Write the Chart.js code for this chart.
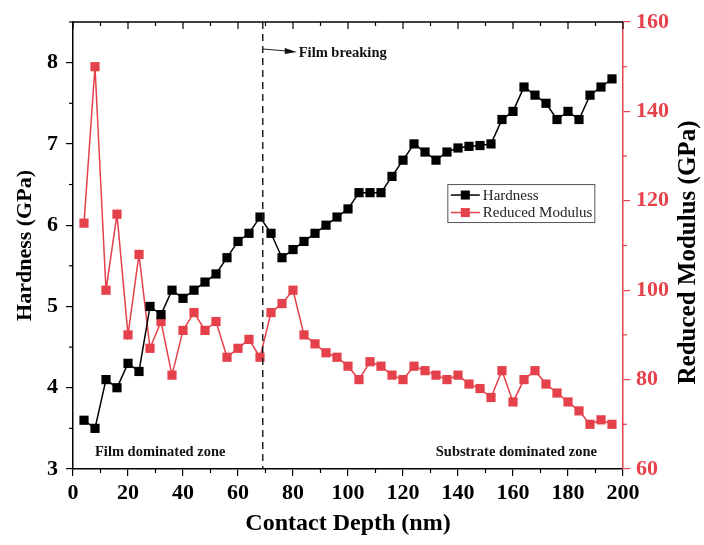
<!DOCTYPE html>
<html>
<head>
<meta charset="utf-8">
<script src="https://cdn.jsdelivr.net/npm/chart.js@4.4.1/dist/chart.umd.min.js"></script>
<style>
  html, body { margin: 0; padding: 0; background: #fff; }
  #wrap { width: 704px; height: 545px; }
</style>
</head>
<body>
<div id="wrap"><canvas id="nano_chart"></canvas></div>
<script>
// contact depth (nm)
const depth = [4, 8, 12, 16, 20, 24, 28, 32, 36, 40, 44, 48, 52, 56, 60, 64, 68, 72, 76, 80,
  84, 88, 92, 96, 100, 104, 108, 112, 116, 120, 124, 128, 132, 136, 140, 144, 148, 152, 156, 160,
  164, 168, 172, 176, 180, 184, 188, 192, 196];

const hardness = [3.6, 3.5, 4.1, 4.0, 4.3, 4.2, 5.0, 4.9, 5.2, 5.1, 5.2, 5.3, 5.4, 5.6, 5.8, 5.9, 6.1, 5.9, 5.6, 5.7,
  5.8, 5.9, 6.0, 6.1, 6.2, 6.4, 6.4, 6.4, 6.6, 6.8, 7.0, 6.9, 6.8, 6.9, 6.95, 6.97, 6.98, 7.0, 7.3, 7.4,
  7.7, 7.6, 7.5, 7.3, 7.4, 7.3, 7.6, 7.7, 7.8];

const modulus = [115, 150, 100, 117, 90, 108, 87, 93, 81, 91, 95, 91, 93, 85, 87, 89, 85, 95, 97, 100,
  90, 88, 86, 85, 83, 80, 84, 83, 81, 80, 83, 82, 81, 80, 81, 79, 78, 76, 82, 75,
  80, 82, 79, 77, 75, 73, 70, 71, 70];

const xTicks = [0, 20, 40, 60, 80, 100, 120, 140, 160, 180, 200];
const breakDepth = 69;

const RED = "#e5414b";
const SERIF = "'Liberation Serif', 'Times New Roman', serif";

const toPoints = (ys) => depth.map((d, i) => ({ x: d, y: ys[i] }));

// minor ticks, top frame, dashed line, notes, legend, right title
const extras = {
  id: "extras",
  afterDraw(chart) {
    const ctx = chart.ctx;
    const area = chart.chartArea;
    const x = chart.scales.x;
    const y = chart.scales.y;
    const y1 = chart.scales.y1;
    ctx.save();

    // top frame
    ctx.strokeStyle = "#000";
    ctx.lineWidth = 1.5;
    ctx.beginPath();
    ctx.moveTo(area.left, area.top);
    ctx.lineTo(area.right, area.top);
    ctx.stroke();

    // x ticks: minor on bottom, major+minor on top
    ctx.lineWidth = 1.2;
    for (let v = 0; v <= 200; v += 10) {
      const px = x.getPixelForValue(v);
      const major = v % 20 === 0;
      ctx.beginPath();
      if (!major) {
        ctx.moveTo(px, area.bottom);
        ctx.lineTo(px, area.bottom + 4);
      }
      ctx.moveTo(px, area.top);
      ctx.lineTo(px, area.top + (major ? 7 : 4));
      ctx.stroke();
    }

    // left minor ticks
    for (let v = 3.5; v <= 8.5; v += 1) {
      const py = y.getPixelForValue(v);
      ctx.beginPath();
      ctx.moveTo(area.left, py);
      ctx.lineTo(area.left - 4, py);
      ctx.stroke();
    }

    // right minor ticks
    ctx.strokeStyle = RED;
    for (let v = 70; v < 160; v += 20) {
      const py = y1.getPixelForValue(v);
      ctx.beginPath();
      ctx.moveTo(area.right, py);
      ctx.lineTo(area.right + 4, py);
      ctx.stroke();
    }

    // film breaking line
    const bx = x.getPixelForValue(breakDepth);
    ctx.strokeStyle = "#222";
    ctx.lineWidth = 1.5;
    ctx.setLineDash([7, 5]);
    ctx.beginPath();
    ctx.moveTo(bx, area.top);
    ctx.lineTo(bx, area.bottom);
    ctx.stroke();
    ctx.setLineDash([]);

    // arrow
    const ay = area.top + 27;
    ctx.lineWidth = 1;
    ctx.beginPath();
    ctx.moveTo(bx, ay);
    ctx.lineTo(bx + 24, ay + 2);
    ctx.stroke();
    ctx.fillStyle = "#111";
    ctx.beginPath();
    ctx.moveTo(bx + 34, ay + 3);
    ctx.lineTo(bx + 22, ay - 1);
    ctx.lineTo(bx + 22, ay + 5);
    ctx.closePath();
    ctx.fill();

    ctx.fillStyle = "#111";
    ctx.font = "bold 14.5px " + SERIF;
    ctx.textBaseline = "middle";
    ctx.textAlign = "left";
    ctx.fillText("Film breaking", bx + 36, ay + 4);
    ctx.fillText("Film dominated zone", x.getPixelForValue(8), y.getPixelForValue(3.2));
    ctx.textAlign = "right";
    ctx.fillText("Substrate dominated zone", x.getPixelForValue(190.5), y.getPixelForValue(3.2));

    // legend box
    const lx = x.getPixelForValue(136.3);
    const ly = y.getPixelForValue(6.5);
    const lw = 147;
    const lh = 38;
    ctx.fillStyle = "#fff";
    ctx.fillRect(lx, ly, lw, lh);
    ctx.strokeStyle = "#555";
    ctx.lineWidth = 1;
    ctx.strokeRect(lx, ly, lw, lh);
    const rows = [["Hardness", "#000"], ["Reduced Modulus", RED]];
    rows.forEach((r, i) => {
      const ry = ly + 10.5 + i * 17.5;
      ctx.strokeStyle = r[1];
      ctx.lineWidth = 1.5;
      ctx.beginPath();
      ctx.moveTo(lx + 3, ry);
      ctx.lineTo(lx + 32, ry);
      ctx.stroke();
      ctx.fillStyle = r[1];
      ctx.fillRect(lx + 13, ry - 4.5, 9, 9);
      ctx.fillStyle = "#222";
      ctx.font = "15px " + SERIF;
      ctx.textAlign = "left";
      ctx.fillText(r[0], lx + 35, ry + 1);
    });

    // right axis title, reading bottom to top
    ctx.translate(689, (area.top + area.bottom) / 2 + 7);
    ctx.rotate(-Math.PI / 2);
    ctx.fillStyle = "#000";
    ctx.font = "bold 25px " + SERIF;
    ctx.textAlign = "center";
    ctx.textBaseline = "middle";
    ctx.fillText("Reduced Modulus (GPa)", 0, 0);

    ctx.restore();
  },
};

new Chart(document.getElementById("nano_chart"), {
  type: "line",
  data: {
    datasets: [
      {
        label: "Hardness",
        data: toPoints(hardness),
        yAxisID: "y",
        borderColor: "#000",
        backgroundColor: "#000",
        borderWidth: 1.5,
        pointStyle: "rect",
        pointRadius: 6.5,
        pointBorderWidth: 0,
        tension: 0,
      },
      {
        label: "Reduced Modulus",
        data: toPoints(modulus),
        yAxisID: "y1",
        borderColor: RED,
        backgroundColor: RED,
        borderWidth: 1.5,
        pointStyle: "rect",
        pointRadius: 6.5,
        pointBorderWidth: 0,
        tension: 0,
      },
    ],
  },
  options: {
    responsive: true,
    maintainAspectRatio: false,
    animation: false,
    layout: { padding: { top: 22 } },
    plugins: { legend: { display: false }, tooltip: { enabled: false } },
    scales: {
      x: {
        type: "linear",
        min: 0,
        max: 200,
        afterBuildTicks: (s) => { s.ticks = xTicks.map((v) => ({ value: v })); },
        afterFit: (s) => { s.height = 76; },
        ticks: { color: "#000", padding: 4, maxRotation: 0, font: { family: SERIF, size: 22, weight: "bold" } },
        grid: { drawOnChartArea: false, tickLength: 7, color: "#000", lineWidth: 1.2 },
        border: { color: "#000", width: 1.5 },
        title: {
          display: true,
          text: "Contact Depth (nm)",
          color: "#000",
          padding: { top: 0, bottom: 7 },
          font: { family: SERIF, size: 24, weight: "bold" },
        },
      },
      y: {
        position: "left",
        min: 3,
        max: 8.5,
        ticks: { stepSize: 1, color: "#000", padding: 8, font: { family: SERIF, size: 22, weight: "bold" } },
        afterBuildTicks: (s) => { s.ticks = s.ticks.filter((t) => t.value <= 8); },
        afterFit: (s) => { s.width = 73; },
        grid: { drawOnChartArea: false, tickLength: 7, color: "#000", lineWidth: 1.2 },
        border: { color: "#000", width: 1.5 },
        title: {
          display: true,
          text: "Hardness (GPa)",
          color: "#000",
          padding: { top: 12, bottom: 0 },
          font: { family: SERIF, size: 22, weight: "bold" },
        },
      },
      y1: {
        position: "right",
        min: 60,
        max: 160,
        ticks: { stepSize: 20, color: RED, padding: 6, font: { family: SERIF, size: 22, weight: "bold" } },
        afterFit: (s) => { s.width = 81; },
        grid: { drawOnChartArea: false, tickLength: 7, color: RED, lineWidth: 1.2 },
        border: { color: RED, width: 1.5 },
        title: { display: false },
      },
    },
  },
  plugins: [extras],
});
</script>
</body>
</html>
